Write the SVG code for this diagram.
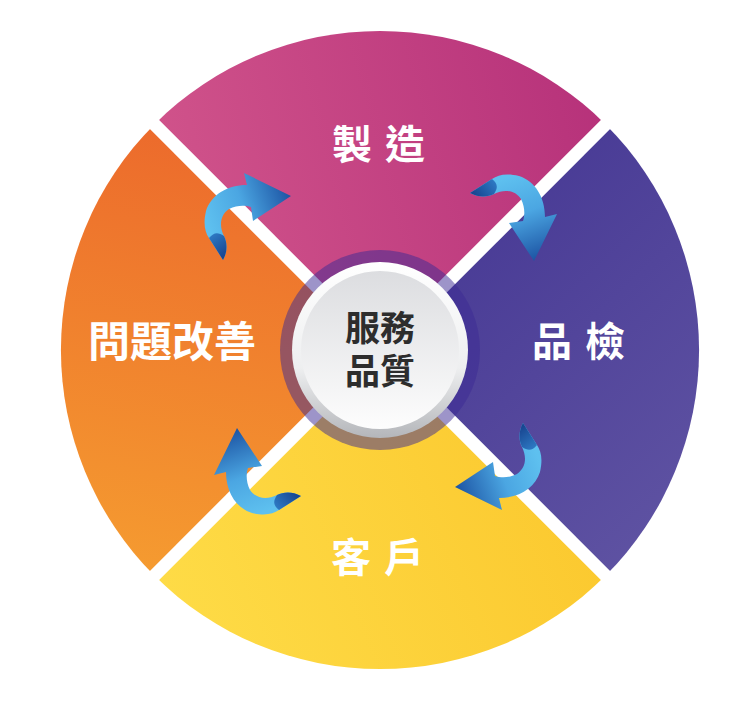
<svg xmlns="http://www.w3.org/2000/svg" xmlns:xlink="http://www.w3.org/1999/xlink" width="738" height="710" viewBox="0 0 738 710">
<defs>
<linearGradient id="gMag" x1="155" y1="200" x2="606" y2="80" gradientUnits="userSpaceOnUse"><stop offset="0" stop-color="#d1548b"/><stop offset="1" stop-color="#b6317a"/></linearGradient>
<linearGradient id="gPur" x1="420" y1="200" x2="700" y2="500" gradientUnits="userSpaceOnUse"><stop offset="0" stop-color="#463894"/><stop offset="1" stop-color="#5e52a2"/></linearGradient>
<linearGradient id="gOra" x1="200" y1="130" x2="120" y2="570" gradientUnits="userSpaceOnUse"><stop offset="0" stop-color="#ec6a2c"/><stop offset="1" stop-color="#f59b30"/></linearGradient>
<linearGradient id="gYel" x1="155" y1="620" x2="606" y2="440" gradientUnits="userSpaceOnUse"><stop offset="0" stop-color="#fedc47"/><stop offset="1" stop-color="#fbc72d"/></linearGradient>
<linearGradient id="gRim" x1="0" y1="0" x2="0" y2="1"><stop offset="0" stop-color="#ffffff"/><stop offset="0.6" stop-color="#eeeff0"/><stop offset="1" stop-color="#b4b6ba"/></linearGradient>
<linearGradient id="gDisc" x1="0" y1="0" x2="0" y2="1"><stop offset="0" stop-color="#dcdde0"/><stop offset="1" stop-color="#fdfdfd"/></linearGradient>
<linearGradient id="gArrow" x1="208" y1="225" x2="290" y2="195" gradientUnits="userSpaceOnUse"><stop offset="0" stop-color="#5ec0ef"/><stop offset="0.45" stop-color="#4ba6e2"/><stop offset="1" stop-color="#1d55a4"/></linearGradient>
<linearGradient id="gTail" x1="208" y1="236" x2="226" y2="259" gradientUnits="userSpaceOnUse"><stop offset="0" stop-color="#2f7cc6"/><stop offset="1" stop-color="#153f8a"/></linearGradient>
<g id="arrow">
<path d="M291,196 L244,173 L247,185 C227,185 211,195 206,211 C203,224 205,232 209,238 L223,260 C228,251 227,242 224,236 C219,226 220,215 229,209 C237,205 245,205 251,207 L253,221 Z" fill="url(#gArrow)"/>
<path d="M209,238 L223,260 C228,251 227,242 224,236 C218,232 214,232 209,238 Z" fill="url(#gTail)"/>
</g>
</defs>
<style>
.lbl{font-family:"Noto Sans CJK TC","Noto Sans CJK SC",sans-serif;font-weight:700;fill:#ffffff;text-anchor:middle;dominant-baseline:central}
.ctr{font-family:"Noto Sans CJK TC","Noto Sans CJK SC",sans-serif;font-weight:700;fill:#2d2d2d;text-anchor:middle;dominant-baseline:central;font-size:35px}
</style>
<rect width="738" height="710" fill="#ffffff"/>
<g id="seg-manufacture">
<path d="M380,350 L154.4,124.4 A319,319 0 0 1 605.6,124.4 Z" fill="url(#gMag)"/>
<text class="lbl" x="385" y="142" font-size="40" letter-spacing="13">製造</text>
</g>
<g id="seg-inspection">
<path d="M380,350 L605.6,124.4 A319,319 0 0 1 605.6,575.6 Z" fill="url(#gPur)"/>
<text class="lbl" x="585" y="339" font-size="40" letter-spacing="13">品檢</text>
</g>
<g id="seg-customer">
<path d="M380,350 L605.6,575.6 A319,319 0 0 1 154.4,575.6 Z" fill="url(#gYel)"/>
<text class="lbl" x="384" y="555" font-size="40" letter-spacing="13">客戶</text>
</g>
<g id="seg-improve">
<path d="M380,350 L154.4,575.6 A319,319 0 0 1 154.4,124.4 Z" fill="url(#gOra)"/>
<text class="lbl" x="172" y="338" font-size="42">問題改善</text>
</g>
<g id="gaps" stroke="#ffffff" stroke-width="13">
<line x1="130" y1="100" x2="630" y2="600"/>
<line x1="630" y1="100" x2="130" y2="600"/>
</g>
<g id="center">
<circle cx="380" cy="350" r="100" fill="#3b2a94" fill-opacity="0.5"/>
<circle cx="380" cy="350" r="88" fill="url(#gRim)"/>
<circle cx="380" cy="350" r="79" fill="url(#gDisc)"/>
<text class="ctr"><tspan x="380" y="325">服務</tspan><tspan x="380" y="368">品質</tspan></text>
</g>
<g id="connectors">
<use xlink:href="#arrow"/>
<use xlink:href="#arrow" transform="rotate(90 380 350)"/>
<use xlink:href="#arrow" transform="translate(-14 -17) rotate(180 380 350)"/>
<use xlink:href="#arrow" transform="translate(11 -11) rotate(270 380 350)"/>
</g>
</svg>
